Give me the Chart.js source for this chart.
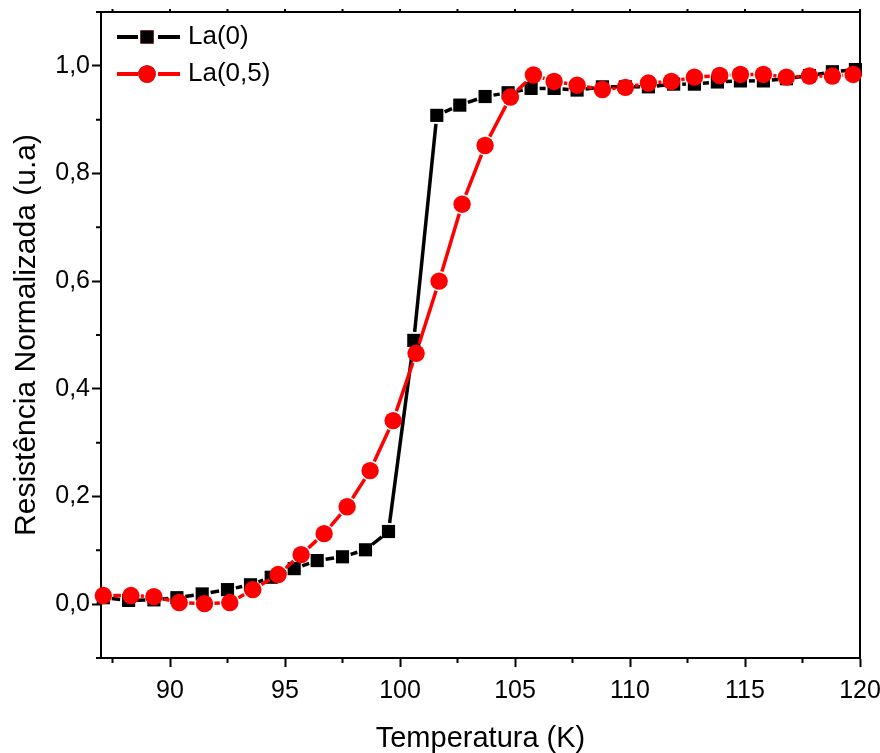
<!DOCTYPE html>
<html>
<head>
<meta charset="utf-8">
<script src="https://cdn.jsdelivr.net/npm/chart.js@4.4.0/dist/chart.umd.min.js"></script>
<style>
    html, body { margin: 0; padding: 0; background: #fff; }
    #wrap { width: 880px; height: 753px; }
</style>
</head>
<body>
<div id="wrap"><canvas id="myChart" width="880" height="753"></canvas></div>
<script>
// series
const seriesNames = ['La(0)', 'La(0,5)']
const tempLa0 = [87.1, 88.2, 89.3, 90.3, 91.4, 92.5, 93.5, 94.4, 95.4, 96.4, 97.5, 98.5, 99.5, 100.6, 101.6, 102.6, 103.7, 104.7, 105.7, 106.7, 107.7, 108.8, 109.8, 110.8, 111.9, 112.8, 113.8, 114.8, 115.8, 116.8, 117.8, 118.8, 119.8]
const resLa0 = [0.012, 0.007, 0.008, 0.012, 0.019, 0.027, 0.036, 0.05, 0.066, 0.081, 0.088, 0.101, 0.135, 0.49, 0.908, 0.927, 0.943, 0.950, 0.958, 0.958, 0.955, 0.961, 0.961, 0.961, 0.966, 0.966, 0.970, 0.972, 0.972, 0.976, 0.982, 0.989, 0.993]
const tempLa05 = [87.1, 88.3, 89.3, 90.4, 91.5, 92.6, 93.6, 94.7, 95.7, 96.7, 97.7, 98.7, 99.7, 100.7, 101.7, 102.7, 103.7, 104.8, 105.8, 106.7, 107.7, 108.8, 109.8, 110.8, 111.8, 112.8, 113.9, 114.8, 115.8, 116.8, 117.8, 118.8, 119.7]
const resLa05 = [0.016, 0.016, 0.014, 0.003, 0.001, 0.003, 0.027, 0.055, 0.092, 0.131, 0.181, 0.248, 0.341, 0.466, 0.600, 0.743, 0.852, 0.942, 0.983, 0.971, 0.964, 0.956, 0.960, 0.968, 0.971, 0.979, 0.982, 0.984, 0.984, 0.979, 0.981, 0.981, 0.984]

// axes
const xMajor = [90, 95, 100, 105, 110, 115, 120]
const xMinor = [87.5, 92.5, 97.5, 102.5, 107.5, 112.5, 117.5]
const yMajor = [0, 0.2, 0.4, 0.6, 0.8, 1.0]
const yMinor = [-0.1, 0.1, 0.3, 0.5, 0.7, 0.9, 1.1]

const FONT = '"Liberation Sans", Arial, sans-serif'
Chart.defaults.font.family = FONT
Chart.defaults.color = '#000'

function toPoints(xs, ys) {
    return xs.map((x, i) => ({ x: x, y: ys[i] }))
}

// Origin-style lines: segments stop short of each marker
const gapLines = {
    id: 'gapLines',
    beforeDatasetDraw(chart, args) {
        const ds = chart.data.datasets[args.index]
        const pts = args.meta.data
        const gap = ds.lineGap
        const ctx = chart.ctx
        ctx.save()
        ctx.strokeStyle = ds.borderColor
        ctx.lineWidth = ds.borderWidth
        for (let i = 1; i < pts.length; i++) {
            const a = pts[i - 1], b = pts[i]
            const dx = b.x - a.x, dy = b.y - a.y
            const d = Math.hypot(dx, dy)
            if (d <= 2 * gap) continue
            const ux = dx / d, uy = dy / d
            ctx.beginPath()
            ctx.moveTo(a.x + ux * gap, a.y + uy * gap)
            ctx.lineTo(b.x - ux * gap, b.y - uy * gap)
            ctx.stroke()
        }
        ctx.restore()
    }
}

// box around the plot + minor ticks
const frame = {
    id: 'frame',
    beforeDatasetsDraw(chart) {
        const { ctx, chartArea: a, scales } = chart
        ctx.save()
        ctx.strokeStyle = '#000'
        ctx.lineWidth = 2
        ctx.strokeRect(a.left, a.top, a.right - a.left, a.bottom - a.top)
        ctx.beginPath()
        xMinor.forEach(v => {
            const px = scales.x.getPixelForValue(v)
            ctx.moveTo(px, a.bottom)
            ctx.lineTo(px, a.bottom + 5)
        })
        xMinor.concat(xMajor).forEach(v => {
            const px = scales.x.getPixelForValue(v)
            ctx.moveTo(px, a.top)
            ctx.lineTo(px, a.top - 3)
        })
        yMinor.forEach(v => {
            const py = scales.y.getPixelForValue(v)
            ctx.moveTo(a.left, py)
            ctx.lineTo(a.left - 5, py)
        })
        ctx.stroke()
        ctx.restore()
    }
}

// legend: line - marker - line, then the name
const legendBox = {
    id: 'legendBox',
    afterDraw(chart) {
        const { ctx, chartArea: a } = chart
        const rows = [a.top + 25, a.top + 62]
        ctx.save()
        seriesNames.forEach((name, i) => {
            const ds = chart.data.datasets[i]
            const y = rows[i]
            const cx = a.left + 46
            ctx.strokeStyle = ds.borderColor
            ctx.lineWidth = 4
            ctx.beginPath()
            ctx.moveTo(a.left + 16, y)
            ctx.lineTo(cx - 9, y)
            ctx.moveTo(cx + 11, y)
            ctx.lineTo(a.left + 79, y)
            ctx.stroke()
            Chart.helpers.drawPoint(ctx, {
                pointStyle: ds.pointStyle,
                radius: ds.pointRadius,
                borderWidth: 0,
                rotation: 0
            }, cx, y)
            ctx.fillStyle = ds.pointBackgroundColor
            ctx.fill()
            ctx.fillStyle = '#000'
            ctx.font = '26px ' + FONT
            ctx.textBaseline = 'middle'
            ctx.fillText(name, a.left + 87, y)
        })
        ctx.restore()
    }
}

const ctx = document.getElementById('myChart').getContext('2d')
new Chart(ctx, {
    type: 'scatter',
    data: {
        datasets: [{
            label: seriesNames[0],
            data: toPoints(tempLa0, resLa0),
            borderColor: '#000',
            borderWidth: 3.5,
            pointStyle: 'rect',
            pointRadius: 9.3,
            pointBackgroundColor: '#000',
            pointBorderWidth: 0,
            showLine: false,
            lineGap: 8.5,
            order: 1,
            clip: false
        }, {
            label: seriesNames[1],
            data: toPoints(tempLa05, resLa05),
            borderColor: '#ff0000',
            borderWidth: 3.5,
            pointStyle: 'circle',
            pointRadius: 8.7,
            pointBackgroundColor: '#ff0000',
            pointBorderWidth: 0,
            showLine: false,
            lineGap: 10,
            order: 0,
            clip: false
        }]
    },
    options: {
        responsive: false,
        animation: false,
        layout: { padding: { top: 12, right: 20, left: 0, bottom: 0 } },
        plugins: {
            legend: { display: false },
            tooltip: { enabled: false }
        },
        scales: {
            x: {
                type: 'linear',
                min: 87,
                max: 120,
                afterBuildTicks: (scale) => { scale.ticks = xMajor.map(v => ({ value: v })) },
                afterFit: (scale) => {
                    scale.height = 95
                    scale.paddingLeft = 0
                    scale.paddingRight = 0
                },
                grid: { drawOnChartArea: false, drawTicks: true, tickLength: 9, tickWidth: 2, tickColor: '#000' },
                border: { display: true, color: '#000', width: 2 },
                ticks: {
                    padding: 9,
                    maxRotation: 0,
                    font: { size: 25 },
                    color: '#000',
                    callback: (v) => String(v)
                },
                title: {
                    display: true,
                    text: 'Temperatura (K)',
                    font: { size: 29, lineHeight: 1 },
                    color: '#000',
                    padding: { top: 0, bottom: 0 }
                }
            },
            y: {
                type: 'linear',
                min: -0.1,
                max: 1.1,
                afterBuildTicks: (scale) => { scale.ticks = yMajor.map(v => ({ value: v })) },
                afterFit: (scale) => {
                    scale.width = 101
                    scale.paddingTop = 0
                    scale.paddingBottom = 0
                },
                grid: { drawOnChartArea: false, drawTicks: true, tickLength: 9, tickWidth: 2, tickColor: '#000' },
                border: { display: true, color: '#000', width: 2 },
                ticks: {
                    padding: 2,
                    font: { size: 25 },
                    color: '#000',
                    callback: (v) => v.toFixed(1).replace('.', ',')
                },
                title: {
                    display: true,
                    text: 'Resistência Normalizada (u.a)',
                    font: { size: 30, lineHeight: 1 },
                    color: '#000',
                    padding: { top: 12, bottom: 0 }
                }
            }
        }
    },
    plugins: [gapLines, frame, legendBox]
})
</script>
</body>
</html>
